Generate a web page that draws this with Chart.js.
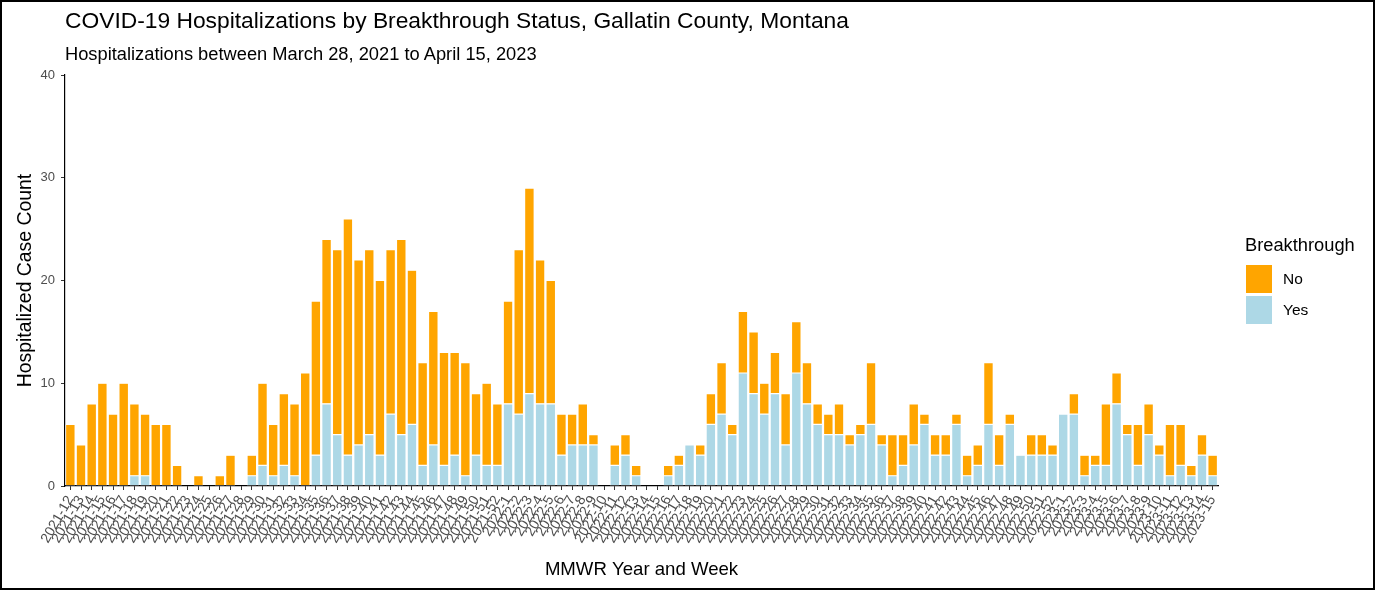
<!DOCTYPE html>
<html>
<head>
<meta charset="utf-8">
<script src="https://cdn.jsdelivr.net/npm/chart.js@4.4.1/dist/chart.umd.min.js"></script>
<style>
  body { margin: 0; background: #fff; font-family: 'Liberation Sans', Arial, sans-serif; }
  #wrap { position: relative; width: 1375px; height: 590px; overflow: hidden; }
  #frame { position: absolute; left: 0; top: 0; width: 1375px; height: 590px; box-sizing: border-box; border: 2px solid #000; pointer-events: none; }
  .title { position: absolute; left: 65px; top: 7px; font-size: 22.8px; color: #000; white-space: nowrap; }
  .subtitle { position: absolute; left: 65px; top: 43px; font-size: 18.3px; color: #000; white-space: nowrap; }
  .legend { position: absolute; left: 1245px; top: 234px; color: #000; }
  .legend .ltitle { font-size: 18.3px; margin-bottom: 7px; }
  .legend .item { display: flex; align-items: center; height: 31px; }
  .legend .swatch { width: 28px; height: 30px; margin-right: 10px; box-sizing: border-box; border: 1px solid #fff; }
  .legend .label { font-size: 15.5px; }
</style>
</head>
<body>
<div id="wrap">
  <canvas id="hospChart" width="1375" height="590"></canvas>
  <div class="title">COVID-19 Hospitalizations by Breakthrough Status, Gallatin County, Montana</div>
  <div class="subtitle">Hospitalizations between March 28, 2021 to April 15, 2023</div>
  <div class="legend" id="legend"></div>
  <div id="frame"></div>
</div>
<script>
// MMWR year/week spans shown on the x axis
const weekSpans = [
  [2021, 12, 52],
  [2022, 1, 52],
  [2023, 1, 15]
];

// Hospitalizations, breakthrough = Yes (one value per week)
const yesCounts = [
  0, 0, 0, 0, 0, 0, 1, 1, 0, 0,
  0, 0, 0, 0, 0, 0, 0, 1, 2, 1,
  2, 1, 0, 3, 8, 5, 3, 4, 5, 3,
  7, 5, 6, 2, 4, 2, 3, 1, 3, 2,
  2, 8, 7, 9, 8, 8, 3, 4, 4, 4,
  0, 2, 3, 1, 0, 0, 1, 2, 4, 3,
  6, 7, 5, 11, 9, 7, 9, 4, 11, 8,
  6, 5, 5, 4, 5, 6, 4, 1, 2, 4,
  6, 3, 3, 6, 1, 2, 6, 2, 6, 3,
  3, 3, 3, 7, 7, 1, 2, 2, 8, 5,
  2, 5, 3, 1, 2, 1, 3, 1
];

// Hospitalizations, breakthrough = No
const noCounts = [
  6, 4, 8, 10, 7, 10, 7, 6, 6, 6,
  2, 0, 1, 0, 1, 3, 0, 2, 8, 5,
  7, 7, 11, 15, 16, 18, 23, 18, 18, 17,
  16, 19, 15, 10, 13, 11, 10, 11, 6, 8,
  6, 10, 16, 20, 14, 12, 4, 3, 4, 1,
  0, 2, 2, 1, 0, 0, 1, 1, 0, 1,
  3, 5, 1, 6, 6, 3, 4, 5, 5, 4,
  2, 2, 3, 1, 1, 6, 1, 4, 3, 4,
  1, 2, 2, 1, 2, 2, 6, 3, 1, 0,
  2, 2, 1, 0, 2, 2, 1, 6, 3, 1,
  4, 3, 1, 5, 4, 1, 2, 2
];

const yTicks = [0, 10, 20, 30, 40];

const colorNo = '#FFA500';
const colorYes = '#ADD8E6';

const weekLabels = [];
weekSpans.forEach(([year, from, to]) => {
  for (let w = from; w <= to; w++) weekLabels.push(`${year}-${w}`);
});

// Legend (ggplot style, drawn beside the plot)
const legendEl = document.getElementById('legend');
legendEl.innerHTML = '<div class="ltitle">Breakthrough</div>' +
  [['No', colorNo], ['Yes', colorYes]].map(([name, col]) =>
    `<div class="item"><div class="swatch" style="background:${col}"></div><div class="label">${name}</div></div>`
  ).join('');

Chart.defaults.font.family = "'Liberation Sans', Arial, sans-serif";

new Chart(document.getElementById('hospChart'), {
  type: 'bar',
  data: {
    labels: weekLabels,
    datasets: [
      {
        label: 'Yes',
        data: yesCounts,
        backgroundColor: colorYes,
        borderColor: 'rgba(255, 255, 255, 0.9)',
        borderWidth: 0.6,
        borderSkipped: false,
        barPercentage: 0.9,
        categoryPercentage: 1
      },
      {
        label: 'No',
        data: noCounts,
        backgroundColor: colorNo,
        borderColor: 'rgba(255, 255, 255, 0.9)',
        borderWidth: 0.6,
        borderSkipped: false,
        barPercentage: 0.9,
        categoryPercentage: 1
      }
    ]
  },
  options: {
    responsive: false,
    animation: false,
    layout: { padding: { left: 0, top: 75, right: 157, bottom: 0 } },
    plugins: {
      legend: { display: false },
      tooltip: { enabled: false }
    },
    scales: {
      x: {
        stacked: true,
        offset: true,
        grid: { display: true, drawOnChartArea: false, drawTicks: true, tickLength: 4, color: '#333', offset: false },
        border: { display: true, color: '#000', width: 1.2 },
        ticks: {
          autoSkip: false,
          maxRotation: 60,
          minRotation: 60,
          color: '#4D4D4D',
          font: { size: 14 },
          padding: 3
        },
        title: {
          display: true,
          text: 'MMWR Year and Week',
          color: '#000',
          font: { size: 18.6 },
          padding: { top: 4, bottom: 9 }
        },
        afterFit: (scale) => { scale.height = 104; }
      },
      y: {
        stacked: true,
        min: 0,
        max: 40,
        afterBuildTicks: (scale) => { scale.ticks = yTicks.map(v => ({ value: v })); },
        grid: { display: true, drawOnChartArea: false, drawTicks: true, tickLength: 4, color: '#333' },
        border: { display: true, color: '#000', width: 1.2 },
        ticks: {
          color: '#4D4D4D',
          font: { size: 13 },
          padding: 6
        },
        title: {
          display: true,
          text: 'Hospitalized Case Count',
          color: '#000',
          font: { size: 19.4 },
          padding: { top: 14, bottom: 4 }
        },
        afterFit: (scale) => { scale.width = 65; }
      }
    }
  }
});
</script>
</body>
</html>
